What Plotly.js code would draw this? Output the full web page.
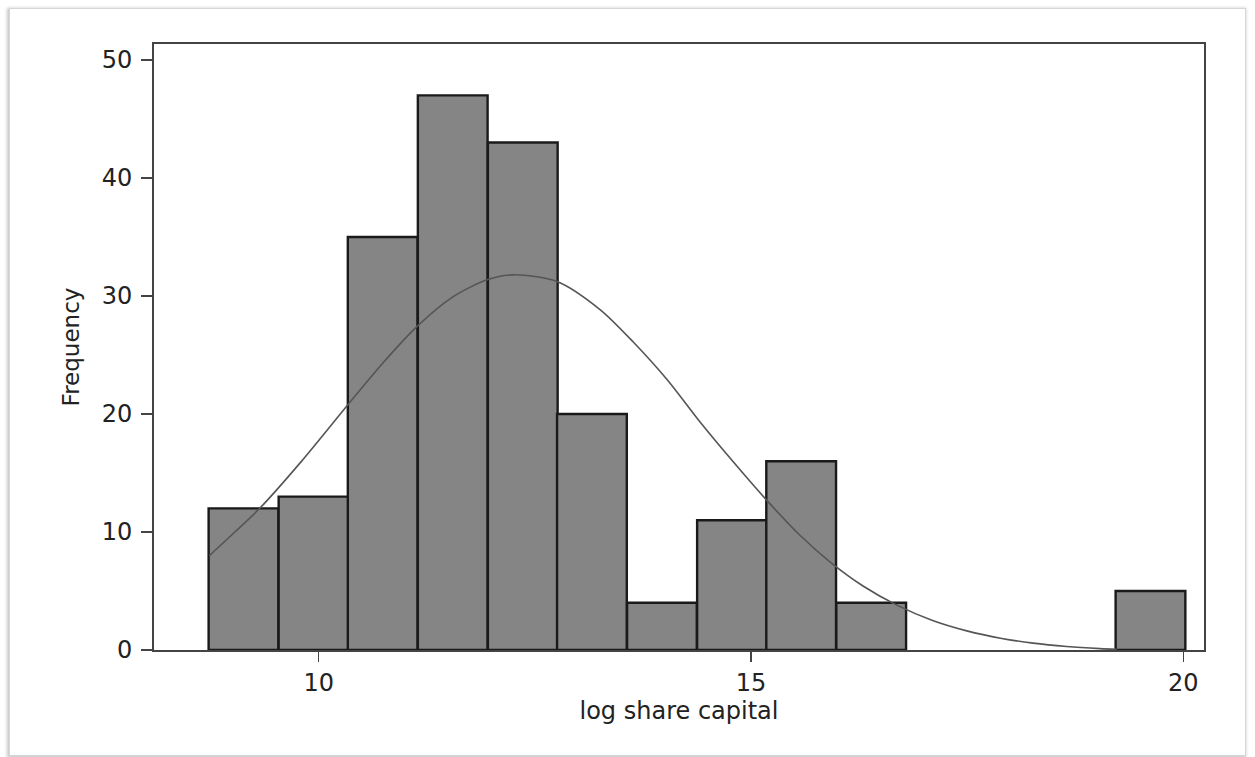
<!DOCTYPE html>
<html>
<head>
<meta charset="utf-8">
<script src="https://cdn.plot.ly/plotly-3.0.1.min.js"></script>
<style>
  html, body { margin: 0; padding: 0; background: #ffffff; }
  #wrap { position: relative; width: 1255px; height: 757px; overflow: hidden; }
  #chart { position: absolute; left: 0; top: 0; width: 1255px; height: 757px; }
  #frame { position: absolute; left: 9px; top: 8px; width: 1235px; height: 746px;
           border: 1px solid #d6d6d6; box-shadow: -1px 1px 3px 1px rgba(0,0,0,0.22);
           pointer-events: none; }
</style>
</head>
<body>
<div id="wrap">
  <div id="chart"></div>
  <div id="frame"></div>
</div>
<script>
// Histogram bins (centres on the log share capital scale) and frequencies
const binCenters = [9.13, 9.94, 10.74, 11.55, 12.36, 13.16, 13.97, 14.78, 15.58, 16.39, 19.62];
const frequencies = [12, 13, 35, 47, 43, 20, 4, 11, 16, 4, 5];
const binWidth = 0.8066;

// Overlaid normal density curve
const curveX = [8.736, 9.03, 9.326, 9.79, 10.347, 10.74, 11.138, 11.547, 11.947, 12.251,
                12.756, 13.257, 13.638, 14.031, 14.413, 14.794, 15.199, 15.569, 15.916, 16.3,
                16.687, 17.1, 17.496, 17.9, 18.262, 18.65, 19.036, 19.23];
const curveY = [8.00, 10.0, 12.07, 15.9, 20.87, 24.3, 27.42, 29.9, 31.37, 31.79,
                31.23, 28.83, 26.1, 22.9, 19.3, 15.95, 12.55, 9.7, 7.45, 5.4,
                3.8, 2.5, 1.62, 0.98, 0.58, 0.3, 0.12, 0.06];

const xTicks = [10, 15, 20];
const yTicks = [0, 10, 20, 30, 40, 50];

const FONT = "DejaVu Sans, Liberation Sans, Arial, sans-serif";

const traces = [
  {
    type: 'bar',
    x: binCenters,
    y: frequencies,
    width: binCenters.map(() => binWidth),
    marker: { color: '#858585', line: { color: '#1a1a1a', width: 2.4 } },
    hoverinfo: 'x+y',
    showlegend: false
  },
  {
    type: 'scatter',
    mode: 'lines',
    x: curveX,
    y: curveY,
    line: { color: '#555555', width: 1.6, shape: 'spline', smoothing: 0.8 },
    showlegend: false,
    hoverinfo: 'skip'
  }
];

const layout = {
  width: 1255,
  height: 757,
  margin: { l: 154, r: 51, t: 44, b: 107, pad: 0 },
  paper_bgcolor: '#ffffff',
  plot_bgcolor: '#ffffff',
  font: { family: FONT, color: '#222222', size: 24 },
  bargap: 0,
  xaxis: {
    range: [8.095, 20.239],
    tickmode: 'array',
    tickvals: xTicks,
    ticktext: xTicks.map(String),
    ticks: 'outside',
    ticklen: 10,
    tickwidth: 1.5,
    tickcolor: '#444444',
    tickfont: { family: FONT, size: 24, color: '#222222' },
    showgrid: false,
    zeroline: false,
    showline: true,
    mirror: true,
    linecolor: '#444444',
    linewidth: 2,
    automargin: false,
    title: { text: 'log share capital', font: { family: FONT, size: 24, color: '#222222' }, standoff: 2 }
  },
  yaxis: {
    range: [0, 51.35],
    tickmode: 'array',
    tickvals: yTicks,
    ticktext: yTicks.map(String),
    ticks: 'outside',
    ticklen: 11,
    tickwidth: 1.5,
    tickcolor: '#444444',
    ticklabelstandoff: 4,
    tickfont: { family: FONT, size: 24, color: '#222222' },
    showgrid: false,
    zeroline: false,
    showline: true,
    mirror: true,
    linecolor: '#444444',
    linewidth: 2,
    automargin: false,
    title: { text: 'Frequency', font: { family: FONT, size: 23, color: '#222222' }, standoff: 16 }
  }
};

Plotly.newPlot('chart', traces, layout, { displayModeBar: false, staticPlot: true });
</script>
</body>
</html>
